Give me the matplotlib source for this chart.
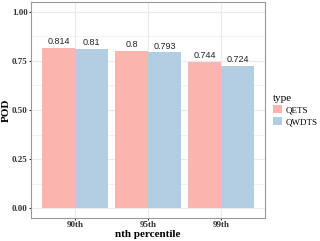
import matplotlib.pyplot as plt
import numpy as np

categories = ['90th', '95th', '99th']
types = ['QETS', 'QWDTS']
qets = [0.814, 0.8, 0.744]
qwdts = [0.81, 0.793, 0.724]
colors = ['#FBB4AE', '#B3CDE3']

fig = plt.figure(figsize=(3.2, 2.41), dpi=100)
ax = fig.add_axes([31 / 320, 1 - 218 / 241, (265 - 31) / 320, (218 - 2) / 241])

x = np.arange(1, len(categories) + 1)
w = 0.45
for vals, off, c, lab in [(qets, -w / 2, colors[0], types[0]), (qwdts, w / 2, colors[1], types[1])]:
    ax.bar(x + off, vals, w, color=c, label=lab, zorder=2)
    for xi, v in zip(x + off, vals):
        ax.text(xi, v + 0.01, f'{v:g}', ha='center', va='bottom',
                fontsize=6.5, family='Liberation Sans', color='#222222')

ax.set_xlim(0.4, 3.6)
ax.set_ylim(-0.05, 1.05)
ax.set_xticks(x)
ax.set_xticklabels(categories)
ax.set_yticks([0, 0.25, 0.5, 0.75, 1.0])
ax.set_yticklabels(['0.00', '0.25', '0.50', '0.75', '1.00'])
ax.set_yticks([0.125, 0.375, 0.625, 0.875], minor=True)
ax.grid(True, which='both', color='#EBEBEB', lw=0.5, zorder=0)
ax.grid(True, which='major', color='#EBEBEB', lw=0.8, zorder=0)
for s in ax.spines.values():
    s.set_color('#999999')
    s.set_linewidth(0.8)
ax.tick_params(which='major', length=1.5, color='#333333', labelsize=6.5, pad=1)
ax.tick_params(which='minor', length=0)
for t in ax.get_xticklabels() + ax.get_yticklabels():
    t.set_family('Liberation Serif')
    t.set_fontweight('bold')
    t.set_color('#333333')

ax.set_xlabel('nth percentile', family='Liberation Serif', fontweight='bold', fontsize=8, labelpad=0.5)
ax.set_ylabel('POD', family='Liberation Serif', fontweight='bold', fontsize=8, labelpad=1)

leg = fig.legend(loc='upper left', bbox_to_anchor=(268 / 320, 1 - 89 / 241), title='type',
                 frameon=False, fontsize=6.5, title_fontsize=8, handlelength=1.0, handleheight=1.0,
                 handletextpad=0.5, labelspacing=0.3, borderpad=0,
                 prop={'family': 'Liberation Serif', 'size': 6.5})
leg.get_title().set_family('Liberation Serif')
leg._legend_box.align = 'left'

fig.savefig('out.png', dpi=100)
